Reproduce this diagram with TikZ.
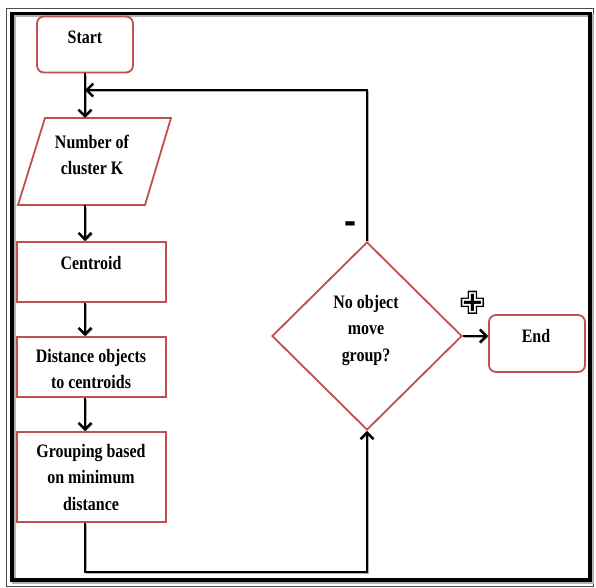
\documentclass[tikz,border=0pt]{standalone}
\usepackage{fontspec}
\setmainfont{Liberation Serif}[FakeStretch=0.84]
\newfontfamily\symfont{DejaVu Sans}
\usetikzlibrary{arrows.meta,calc,shapes.geometric}
\definecolor{boxred}{RGB}{192,80,77}
\begin{document}
\begin{tikzpicture}[x=1pt,y=-1pt,
  shp/.style={draw=boxred, line width=1.8pt, inner sep=0pt, fill=white},
  rbox/.style={shp, rectangle, rounded corners=7pt},
  sbox/.style={shp, rectangle, minimum width=149pt},
  lbl/.style={font=\bfseries\fontsize{19}{26.5}\selectfont, align=center, inner sep=0pt},
  shad/.style={preaction={draw=black!30, transform canvas={shift={(1.3pt,-1.3pt)}}}},
  conn/.style={line width=2.4pt, shad},
  flow/.style={conn, -{Straight Barb[length=6.5pt,width=13pt]}}]
\useasboundingbox (0,0) rectangle (596,587);
% frame
\draw[line width=0.8pt, black!70] (6,8) rectangle (593.5,586.5);
\draw[line width=3.8pt, black!30] (14,15.5) rectangle (592,582);
\draw[line width=3.8pt] (12,13.5) rectangle (590,580);
% shapes
\node[rbox, minimum width=96pt, minimum height=56pt] (start) at (85,44.5) {};
\node[minimum width=153pt, minimum height=87pt, inner sep=0pt] (num) at (94.5,161.5) {};
\draw[boxred, line width=1.8pt, line join=miter] (45,118) -- (171,118) -- (145,205) -- (18,205) -- cycle;
\node[sbox, minimum height=60pt] (cen) at (91.5,272) {};
\node[sbox, minimum height=60pt] (dist) at (91.5,367) {};
\node[sbox, minimum height=90pt] (grp) at (91.5,477) {};
\node[shp, diamond, minimum width=190pt, minimum height=188pt] (dec) at (367,336) {};
\node[rbox, minimum width=96pt, minimum height=57pt] (end) at (537,343.5) {};
% texts
\node[lbl] (startt) at (85,37) {Start};
\node[lbl] (numt) at (92,155) {Number of\\cluster K};
\node[lbl] (cent) at (91,263) {Centroid};
\node[lbl] (distt) at (91,369) {Distance objects\\to centroids};
\node[lbl] (grpt) at (91,477) {Grouping based\\on minimum\\distance};
\node[lbl] (dect) at (366,330) {No object\\move\\group?};
\node[lbl] (endt) at (536,336) {End};
\node[inner sep=0pt, font=\symfont\bfseries\fontsize{30}{30}\selectfont] (minus) at (350,227) {-};
\node[inner sep=0pt, font=\symfont\bfseries\fontsize{32}{32}\selectfont] (plus) at (473,303) {✙};
% connectors
\coordinate (merge) at (start.south |- 0,90);
\coordinate (loopb) at (start.south |- 0,572);
\draw[flow] (start.south) -- (start.south |- num.north);
\draw[flow] (start.south |- num.south) -- (start.south |- cen.north);
\draw[flow] (start.south |- cen.south) -- (start.south |- dist.north);
\draw[flow] (start.south |- dist.south) -- (start.south |- grp.north);
\draw[flow] (start.south |- grp.south) -- (loopb) -| (dec.south);
\draw[flow] (dec.north) |- (merge);
\draw[flow] (dec.east) -- (dec.east -| end.west);
\end{tikzpicture}
\end{document}
